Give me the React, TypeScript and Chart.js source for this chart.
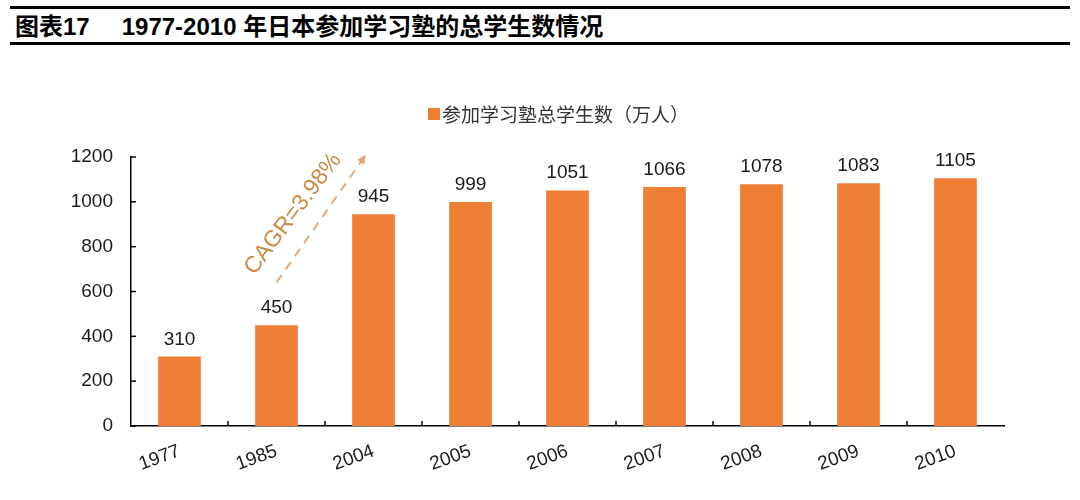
import React, { useEffect, useRef } from "react";
import { Chart, registerables } from "chart.js";

Chart.register(...registerables);

const categories = ["1977", "1985", "2004", "2005", "2006", "2007", "2008", "2009", "2010"];
const students = [310, 450, 945, 999, 1051, 1066, 1078, 1083, 1105];
const seriesLabel = "参加学习塾总学生数（万人）";
const cagrLabel = "CAGR=3.98%";
// CAGR arrow anchor points: [category index, value]
const cagrArrowFrom = [1.0, 640];
const cagrArrowTo = [1.92, 1210];
const cagrTextAt = [1.17, 946];
const titleNo = "图表17";
const titleText = "1977-2010 年日本参加学习塾的总学生数情况";

const BAR_COLOR = "#EE7D35";
const NUM_FONT = '"Liberation Sans", Arial, sans-serif';
const CJK_FONT = '"Noto Sans CJK SC", "Liberation Sans", sans-serif';
const TITLE_FONT = '"Liberation Sans", "Noto Sans CJK SC", sans-serif';

const overlayPlugin = {
  id: "overlay",
  afterDatasetsDraw(chart: any) {
    const ctx = chart.ctx;
    const xs = chart.scales.x;
    const ys = chart.scales.y;
    const area = chart.chartArea;
    ctx.save();

    // inward tick marks on y axis
    ctx.strokeStyle = "#000";
    ctx.lineWidth = 1.5;
    ys.ticks.forEach((t: any) => {
      const py = ys.getPixelForValue(t.value);
      ctx.beginPath();
      ctx.moveTo(area.left, py);
      ctx.lineTo(area.left + 5, py);
      ctx.stroke();
    });
    // inward tick marks on x axis at category boundaries
    for (let i = 1; i < categories.length; i++) {
      const px = xs.getPixelForValue(i - 0.5);
      ctx.beginPath();
      ctx.moveTo(px, area.bottom);
      ctx.lineTo(px, area.bottom - 5);
      ctx.stroke();
    }

    // data labels
    const meta = chart.getDatasetMeta(0);
    ctx.fillStyle = "#1a1a1a";
    ctx.font = `19px ${NUM_FONT}`;
    ctx.textAlign = "center";
    ctx.textBaseline = "alphabetic";
    meta.data.forEach((bar: any, i: number) => {
      ctx.fillText(String(students[i]), bar.x, bar.y - 12);
    });

    // legend
    const legX = 428;
    const legY = 64;
    ctx.fillStyle = BAR_COLOR;
    ctx.fillRect(legX, legY - 6, 12, 12);
    ctx.fillStyle = "#333";
    ctx.font = `19px ${CJK_FONT}`;
    ctx.textAlign = "left";
    ctx.textBaseline = "middle";
    ctx.fillText(seriesLabel, legX + 14, legY + 1);

    // CAGR arrow
    const x0 = xs.getPixelForValue(cagrArrowFrom[0]);
    const y0 = ys.getPixelForValue(cagrArrowFrom[1]);
    const x1 = xs.getPixelForValue(cagrArrowTo[0]);
    const y1 = ys.getPixelForValue(cagrArrowTo[1]);
    const ang = Math.atan2(y1 - y0, x1 - x0);
    ctx.strokeStyle = "rgba(225,160,110,0.9)";
    ctx.lineWidth = 2;
    ctx.setLineDash([9, 7]);
    ctx.beginPath();
    ctx.moveTo(x0, y0);
    ctx.lineTo(x1 - Math.cos(ang) * 6, y1 - Math.sin(ang) * 6);
    ctx.stroke();
    ctx.setLineDash([]);
    ctx.fillStyle = "rgba(225,160,110,0.95)";
    ctx.beginPath();
    ctx.moveTo(x1, y1);
    ctx.lineTo(x1 - Math.cos(ang - 0.45) * 10, y1 - Math.sin(ang - 0.45) * 10);
    ctx.lineTo(x1 - Math.cos(ang + 0.45) * 10, y1 - Math.sin(ang + 0.45) * 10);
    ctx.closePath();
    ctx.fill();

    // CAGR text
    const tx = xs.getPixelForValue(cagrTextAt[0]);
    const ty = ys.getPixelForValue(cagrTextAt[1]);
    ctx.translate(tx, ty);
    ctx.rotate((-53 * Math.PI) / 180);
    ctx.fillStyle = "#C98B45";
    ctx.font = `23px ${NUM_FONT}`;
    ctx.textAlign = "center";
    ctx.textBaseline = "middle";
    ctx.fillText(cagrLabel, 0, 0);
    ctx.restore();
  },
};

export default function App() {
  const ref = useRef<HTMLCanvasElement | null>(null);

  useEffect(() => {
    document.body.style.margin = "0";
    const canvas = ref.current;
    if (!canvas) return;
    const chart = new Chart(canvas, {
      type: "bar",
      data: {
        labels: categories,
        datasets: [
          {
            label: seriesLabel,
            data: students,
            backgroundColor: BAR_COLOR,
            borderWidth: 0,
            barPercentage: 0.44,
            categoryPercentage: 1,
          },
        ],
      },
      options: {
        animation: false,
        responsive: false,
        maintainAspectRatio: false,
        layout: { padding: { top: 107, right: 76, left: 0, bottom: 0 } },
        plugins: {
          legend: { display: false },
          tooltip: { enabled: false },
          title: { display: false },
        },
        scales: {
          x: {
            grid: { display: false, drawTicks: false },
            border: { display: true, color: "#000", width: 1.5 },
            ticks: {
              color: "#1a1a1a",
              font: { family: NUM_FONT, size: 19 },
              minRotation: 20,
              maxRotation: 20,
              padding: 14,
              autoSkip: false,
            },
            afterFit(scale: any) {
              scale.height = 74;
            },
          },
          y: {
            min: 0,
            max: 1200,
            grid: { display: false, drawTicks: false },
            border: { display: true, color: "#000", width: 1.5 },
            ticks: {
              stepSize: 200,
              color: "#1a1a1a",
              font: { family: NUM_FONT, size: 19 },
              padding: 18,
              callback: (v: any) => String(v),
            },
            afterFit(scale: any) {
              scale.width = 131;
            },
          },
        },
      },
      plugins: [overlayPlugin],
    });
    return () => chart.destroy();
  }, []);

  return (
    <div style={{ position: "relative", width: 1080, height: 500, background: "#fff", overflow: "hidden" }}>
      <div style={{ position: "absolute", left: 10, top: 6, width: 1060, height: 3, background: "#000" }} />
      <div
        style={{
          position: "absolute",
          left: 15,
          top: 12,
          fontFamily: TITLE_FONT,
          fontWeight: 700,
          fontSize: 24,
          lineHeight: "30px",
          color: "#000",
          whiteSpace: "pre",
        }}
      >
        <span>{titleNo}</span>
        <span style={{ marginLeft: 32 }}>{titleText}</span>
      </div>
      <div style={{ position: "absolute", left: 10, top: 42, width: 1060, height: 3, background: "#000" }} />
      <canvas
        ref={ref}
        width={1080}
        height={450}
        style={{ position: "absolute", left: 0, top: 50, width: 1080, height: 450 }}
      />
    </div>
  );
}
